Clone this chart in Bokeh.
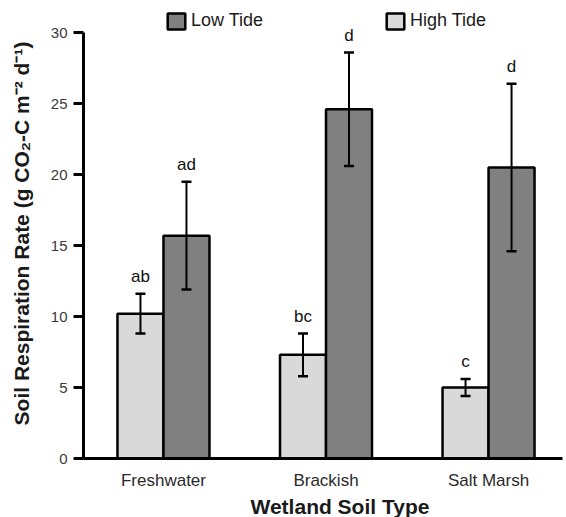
from bokeh.plotting import figure
from bokeh.models import (ColumnDataSource, Range1d, FixedTicker, Whisker, TeeHead,
                          Legend, LegendItem, Title)
from bokeh.core.properties import value
from bokeh.embed import file_html
from bokeh.resources import INLINE

# ---- data ----
categories = ["Freshwater", "Brackish", "Salt Marsh"]
high_tide = [10.2, 7.3, 5.0]
high_err = [1.4, 1.5, 0.6]
low_tide = [15.7, 24.6, 20.5]
low_err = [3.8, 4.0, 5.9]
high_letters = ["ab", "bc", "c"]
low_letters = ["ad", "d", "d"]
y_ticks = [0, 5, 10, 15, 20, 25, 30]

FONT = "Liberation Sans"
LIGHT = "#d9d9d9"
DARK = "#808080"
BAR_W = 0.283
OFF = BAR_W / 2

idx = list(range(len(categories)))
hs = ColumnDataSource(dict(
    x=[i - OFF for i in idx], top=high_tide,
    upper=[v + e for v, e in zip(high_tide, high_err)],
    lower=[v - e for v, e in zip(high_tide, high_err)],
    lab=high_letters))
ls = ColumnDataSource(dict(
    x=[i + OFF for i in idx], top=low_tide,
    upper=[v + e for v, e in zip(low_tide, low_err)],
    lower=[v - e for v, e in zip(low_tide, low_err)],
    lab=low_letters))

p = figure(width=566, height=517, output_backend="svg", toolbar_location=None,
           x_range=Range1d(-0.492, 2.455), y_range=Range1d(0, 31.7),
           min_border_left=83, min_border_right=4, min_border_top=8,
           min_border_bottom=56)
p.outline_line_color = None
p.xgrid.grid_line_color = None
p.ygrid.grid_line_color = None
p.background_fill_color = "white"
p.border_fill_color = "white"

r_high = p.vbar(x="x", top="top", width=BAR_W, source=hs, fill_color=LIGHT,
                line_color="black", line_width=2.5)
r_low = p.vbar(x="x", top="top", width=BAR_W, source=ls, fill_color=DARK,
               line_color="black", line_width=2.5)

for src in (hs, ls):
    w = Whisker(source=src, base="x", upper="upper", lower="lower",
                dimension="height", line_width=2, line_color="black",
                level="overlay",
                upper_head=TeeHead(size=10, line_width=2.5),
                lower_head=TeeHead(size=10, line_width=2.5))
    p.add_layout(w)
    p.text(x="x", y="upper", text="lab", source=src, text_align="center",
           text_baseline="bottom", y_offset=-8, text_font=value(FONT),
           text_font_size="17px", text_color="#111111")

# axes
ya = p.yaxis[0]
ya.ticker = FixedTicker(ticks=y_ticks)
ya.bounds = (0, 30)
ya.axis_line_width = 3
ya.major_tick_line_width = 3
ya.major_tick_out = 10
ya.major_tick_in = 0
ya.minor_tick_line_color = None
ya.major_label_standoff = 6
ya.major_label_text_font = FONT
ya.major_label_text_font_size = "15px"
ya.major_label_text_color = "#3a3a3a"
ya.axis_label = "Soil Respiration Rate (g CO\u2082-C m\u207b\u00b2 d\u207b\u00b9)"
ya.axis_label_text_font = FONT
ya.axis_label_text_font_size = "21px"
ya.axis_label_text_font_style = "bold"
ya.axis_label_text_color = "#1a1a1a"
ya.axis_label_standoff = 15

xa = p.xaxis[0]
xa.ticker = FixedTicker(ticks=idx)
xa.major_label_overrides = {i: c for i, c in zip(idx, categories)}
xa.axis_line_width = 3
xa.major_tick_line_color = None
xa.minor_tick_line_color = None
xa.major_label_standoff = 6
xa.major_label_text_font = FONT
xa.major_label_text_font_size = "17px"
xa.major_label_text_color = "#2a2a2a"

p.add_layout(Title(text="Wetland Soil Type", align="left", offset=167,
                   text_font=FONT, text_font_size="21px", text_font_style="bold",
                   text_color="#1a1a1a", standoff=0), "below")

legend = Legend(items=[LegendItem(label="Low Tide", renderers=[r_low]),
                       LegendItem(label="High Tide", renderers=[r_high])],
                orientation="horizontal", location=(82, 427),
                glyph_width=22, glyph_height=20, label_standoff=4,
                spacing=121, padding=0, margin=0,
                label_text_font=FONT, label_text_font_size="18px",
                label_text_color="#1a1a1a",
                border_line_alpha=0, background_fill_alpha=0)
p.add_layout(legend)

open("out.html", "w").write(file_html(p, INLINE))
